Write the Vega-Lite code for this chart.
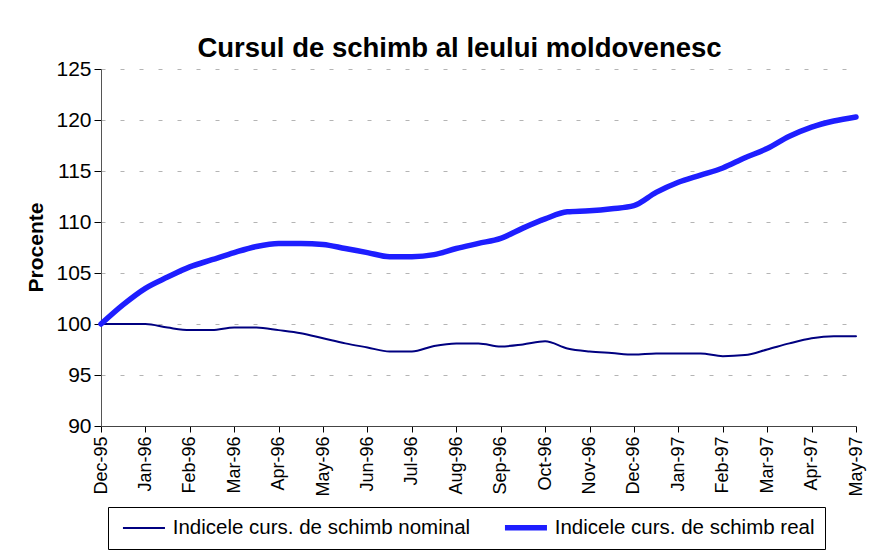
{
  "$schema": "https://vega.github.io/schema/vega-lite/v6.json",
  "autosize": {"type": "none"},
  "width": 755,
  "height": 357,
  "padding": {"left": 101, "top": 69, "right": 15, "bottom": 127},
  "background": "white",
  "title": {
    "text": "Cursul de schimb al leului moldovenesc",
    "font": "Liberation Sans",
    "fontSize": 27.5,
    "fontWeight": "bold",
    "color": "black",
    "anchor": "middle",
    "frame": "group",
    "dx": -19,
    "offset": -4
  },
  "config": {
    "view": {"stroke": null},
    "font": "Liberation Sans"
  },
  "data": {
    "values": [
      {"t": 0, "series": "Indicele curs. de schimb nominal", "value": 100},
      {"t": 0.5, "series": "Indicele curs. de schimb nominal", "value": 100},
      {"t": 1, "series": "Indicele curs. de schimb nominal", "value": 100},
      {"t": 1.5, "series": "Indicele curs. de schimb nominal", "value": 99.65},
      {"t": 2, "series": "Indicele curs. de schimb nominal", "value": 99.4},
      {"t": 2.5, "series": "Indicele curs. de schimb nominal", "value": 99.4},
      {"t": 3, "series": "Indicele curs. de schimb nominal", "value": 99.65},
      {"t": 3.5, "series": "Indicele curs. de schimb nominal", "value": 99.65},
      {"t": 4, "series": "Indicele curs. de schimb nominal", "value": 99.4},
      {"t": 4.5, "series": "Indicele curs. de schimb nominal", "value": 99.1},
      {"t": 5, "series": "Indicele curs. de schimb nominal", "value": 98.6},
      {"t": 5.5, "series": "Indicele curs. de schimb nominal", "value": 98.1},
      {"t": 6, "series": "Indicele curs. de schimb nominal", "value": 97.7},
      {"t": 6.5, "series": "Indicele curs. de schimb nominal", "value": 97.3},
      {"t": 7, "series": "Indicele curs. de schimb nominal", "value": 97.3},
      {"t": 7.5, "series": "Indicele curs. de schimb nominal", "value": 97.85},
      {"t": 8, "series": "Indicele curs. de schimb nominal", "value": 98.1},
      {"t": 8.5, "series": "Indicele curs. de schimb nominal", "value": 98.1},
      {"t": 9, "series": "Indicele curs. de schimb nominal", "value": 97.8},
      {"t": 9.5, "series": "Indicele curs. de schimb nominal", "value": 98.0},
      {"t": 10, "series": "Indicele curs. de schimb nominal", "value": 98.3},
      {"t": 10.5, "series": "Indicele curs. de schimb nominal", "value": 97.6},
      {"t": 11, "series": "Indicele curs. de schimb nominal", "value": 97.3},
      {"t": 11.5, "series": "Indicele curs. de schimb nominal", "value": 97.15},
      {"t": 12, "series": "Indicele curs. de schimb nominal", "value": 97.0},
      {"t": 12.5, "series": "Indicele curs. de schimb nominal", "value": 97.1},
      {"t": 13, "series": "Indicele curs. de schimb nominal", "value": 97.1},
      {"t": 13.5, "series": "Indicele curs. de schimb nominal", "value": 97.1},
      {"t": 14, "series": "Indicele curs. de schimb nominal", "value": 96.85},
      {"t": 14.5, "series": "Indicele curs. de schimb nominal", "value": 96.95},
      {"t": 15, "series": "Indicele curs. de schimb nominal", "value": 97.5},
      {"t": 15.5, "series": "Indicele curs. de schimb nominal", "value": 98.1},
      {"t": 16, "series": "Indicele curs. de schimb nominal", "value": 98.6},
      {"t": 16.5, "series": "Indicele curs. de schimb nominal", "value": 98.8},
      {"t": 17, "series": "Indicele curs. de schimb nominal", "value": 98.8},
      {"t": 0, "series": "Indicele curs. de schimb real", "value": 100},
      {"t": 0.5, "series": "Indicele curs. de schimb real", "value": 101.9},
      {"t": 1, "series": "Indicele curs. de schimb real", "value": 103.5},
      {"t": 1.5, "series": "Indicele curs. de schimb real", "value": 104.6},
      {"t": 2, "series": "Indicele curs. de schimb real", "value": 105.6},
      {"t": 2.5, "series": "Indicele curs. de schimb real", "value": 106.3},
      {"t": 3, "series": "Indicele curs. de schimb real", "value": 107.0},
      {"t": 3.5, "series": "Indicele curs. de schimb real", "value": 107.6},
      {"t": 4, "series": "Indicele curs. de schimb real", "value": 107.9},
      {"t": 4.5, "series": "Indicele curs. de schimb real", "value": 107.9},
      {"t": 5, "series": "Indicele curs. de schimb real", "value": 107.8},
      {"t": 5.5, "series": "Indicele curs. de schimb real", "value": 107.4},
      {"t": 6, "series": "Indicele curs. de schimb real", "value": 107.0},
      {"t": 6.5, "series": "Indicele curs. de schimb real", "value": 106.6},
      {"t": 7, "series": "Indicele curs. de schimb real", "value": 106.6},
      {"t": 7.5, "series": "Indicele curs. de schimb real", "value": 106.8},
      {"t": 8, "series": "Indicele curs. de schimb real", "value": 107.4},
      {"t": 8.5, "series": "Indicele curs. de schimb real", "value": 107.9},
      {"t": 9, "series": "Indicele curs. de schimb real", "value": 108.4},
      {"t": 9.5, "series": "Indicele curs. de schimb real", "value": 109.4},
      {"t": 10, "series": "Indicele curs. de schimb real", "value": 110.3},
      {"t": 10.5, "series": "Indicele curs. de schimb real", "value": 111.0},
      {"t": 11, "series": "Indicele curs. de schimb real", "value": 111.1},
      {"t": 11.5, "series": "Indicele curs. de schimb real", "value": 111.3},
      {"t": 12, "series": "Indicele curs. de schimb real", "value": 111.6},
      {"t": 12.5, "series": "Indicele curs. de schimb real", "value": 112.9},
      {"t": 13, "series": "Indicele curs. de schimb real", "value": 113.9},
      {"t": 13.5, "series": "Indicele curs. de schimb real", "value": 114.6},
      {"t": 14, "series": "Indicele curs. de schimb real", "value": 115.3},
      {"t": 14.5, "series": "Indicele curs. de schimb real", "value": 116.3},
      {"t": 15, "series": "Indicele curs. de schimb real", "value": 117.2},
      {"t": 15.5, "series": "Indicele curs. de schimb real", "value": 118.4},
      {"t": 16, "series": "Indicele curs. de schimb real", "value": 119.3},
      {"t": 16.5, "series": "Indicele curs. de schimb real", "value": 119.9},
      {"t": 17, "series": "Indicele curs. de schimb real", "value": 120.3}
    ]
  },
  "mark": {"type": "line", "interpolate": "monotone", "strokeCap": "round", "strokeJoin": "round"},
  "encoding": {
    "x": {
      "field": "t",
      "type": "quantitative",
      "scale": {"domain": [0, 17], "nice": false, "zero": false},
      "axis": {
        "title": null,
        "values": [0, 1, 2, 3, 4, 5, 6, 7, 8, 9, 10, 11, 12, 13, 14, 15, 16, 17],
        "labelExpr": "['Dec-95','Jan-96','Feb-96','Mar-96','Apr-96','May-96','Jun-96','Jul-96','Aug-96','Sep-96','Oct-96','Nov-96','Dec-96','Jan-97','Feb-97','Mar-97','Apr-97','May-97'][datum.value]",
        "labelAngle": -90,
        "labelAlign": "right",
        "labelBaseline": "middle",
        "labelFontSize": 18,
        "labelColor": "black",
        "labelPadding": 4,
        "labelOverlap": false,
        "labelFlush": false,
        "tickSize": 6,
        "tickColor": "black",
        "domainColor": "#444444",
        "grid": false
      }
    },
    "y": {
      "field": "value",
      "type": "quantitative",
      "scale": {"domain": [90, 125], "nice": false, "zero": false},
      "axis": {
        "title": "Procente",
        "titleFontSize": 21,
        "titleFontWeight": "bold",
        "titleColor": "black",
        "titleAngle": -90,
        "titleAlign": "center",
        "titleBaseline": "middle",
        "titleX": -65,
        "titleY": 178,
        "values": [90, 95, 100, 105, 110, 115, 120, 125],
        "labelFontSize": 21,
        "labelColor": "black",
        "labelPadding": 3,
        "tickSize": 7,
        "tickColor": "black",
        "domainColor": "#555555",
        "grid": true,
        "gridColor": "#b4b4b4",
        "gridDash": [4, 15],
        "gridWidth": 1
      }
    },
    "color": {
      "field": "series",
      "type": "nominal",
      "scale": {
        "domain": ["Indicele curs. de schimb nominal", "Indicele curs. de schimb real"],
        "range": ["#000080", "#1e1eff"]
      },
      "legend": {
        "title": null,
        "orient": "none",
        "legendX": 7,
        "legendY": 438,
        "direction": "horizontal",
        "strokeColor": "black",
        "padding": 10,
        "symbolType": "M-0.98,0H6.8",
        "symbolSize": 116.6,
        "labelFontSize": 20.5,
        "labelLimit": 500,
        "labelColor": "black",
        "labelOffset": 34.2,
        "columnPadding": 22
      }
    },
    "strokeWidth": {
      "field": "series",
      "type": "nominal",
      "scale": {
        "domain": ["Indicele curs. de schimb nominal", "Indicele curs. de schimb real"],
        "range": [2, 5.5]
      },
      "legend": {
        "title": null,
        "orient": "none",
        "legendX": 7,
        "legendY": 438,
        "direction": "horizontal",
        "strokeColor": "black",
        "padding": 10,
        "symbolType": "M-0.98,0H6.8",
        "symbolSize": 116.6,
        "labelFontSize": 20.5,
        "labelLimit": 500,
        "labelColor": "black",
        "labelOffset": 34.2,
        "columnPadding": 22
      }
    }
  }
}
